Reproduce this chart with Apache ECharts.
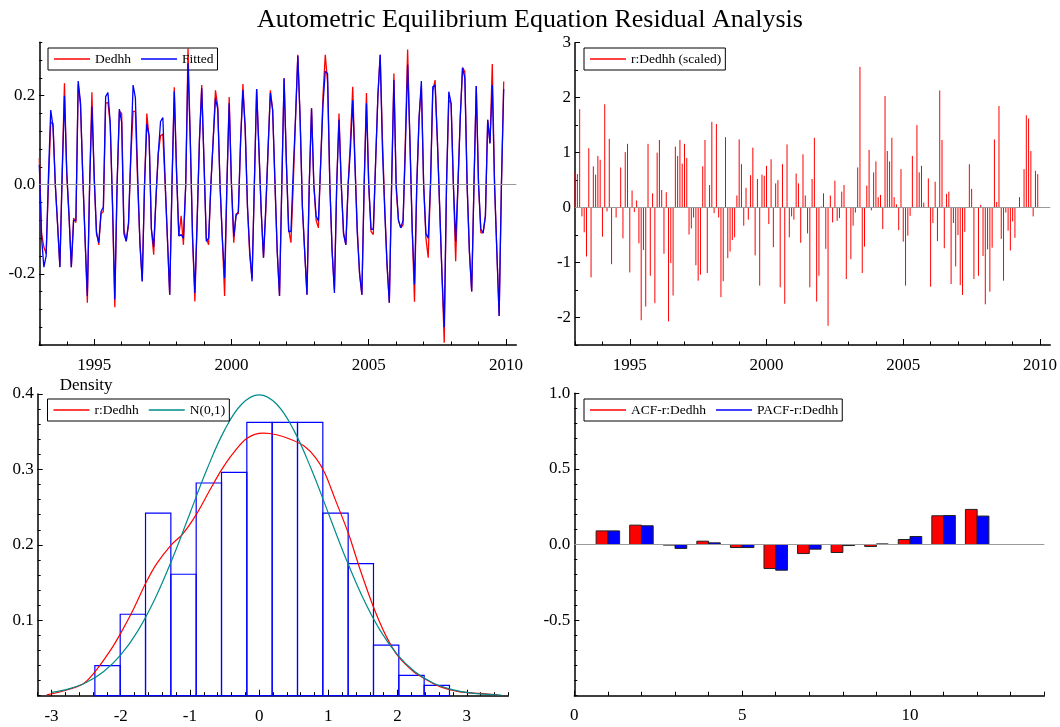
<!DOCTYPE html>
<html><head><meta charset="utf-8">
<script src="https://cdn.jsdelivr.net/npm/echarts@6/dist/echarts.min.js"></script>
<style>html,body{margin:0;padding:0;background:#fff}#c{width:1060px;height:727px}</style>
</head><body><div id="c"></div>
<script>
// ---------------- DATA ----------------
const startYear = 1993;
const periodsPerYear = 12;
const dedhh = [0.06,-0.11,-0.14,-0.155,0.0,0.14,0.138,0.0,-0.09,-0.185,0.03,0.228,0.02,-0.07,-0.185,-0.075,-0.085,0.225,0.18,0.02,
-0.12,-0.265,0.0,0.208,0.01,-0.105,-0.135,-0.065,-0.06,0.183,0.185,0.135,-0.05,-0.275,0.0,0.165,0.16,-0.1,-0.127,-0.09,
0.06,0.165,0.165,0.0,-0.13,-0.217,0.0,0.16,0.105,-0.1,-0.157,-0.03,0.07,0.11,0.114,0.0,-0.12,-0.247,0.0,0.219,
0.03,-0.115,-0.07,-0.135,0.0,0.306,0.1,-0.12,-0.262,-0.08,0.1,0.224,0.05,-0.12,-0.135,0.0,0.1,0.212,0.176,0.0,
-0.12,-0.25,0.0,0.197,0.0,-0.13,-0.065,-0.065,0.1,0.226,0.12,-0.05,-0.16,-0.21,0.0,0.215,0.08,-0.06,-0.164,-0.06,
0.08,0.212,0.168,0.0,-0.15,-0.25,0.0,0.239,0.05,-0.1,-0.13,0.0,0.15,0.292,0.15,-0.05,-0.15,-0.247,0.0,0.172,
0.0,-0.08,-0.097,0.05,0.2,0.292,0.23,0.0,-0.15,-0.235,0.0,0.16,0.0,-0.11,-0.135,0.0,0.1,0.22,0.05,-0.1,
-0.2,-0.247,0.0,0.206,0.0,-0.105,-0.112,0.05,0.2,0.292,0.1,-0.05,-0.18,-0.265,0.0,0.25,-0.01,-0.08,-0.097,-0.09,
0.1,0.304,0.1,-0.1,-0.263,0.0,0.15,0.22,0.0,-0.12,-0.164,0.0,0.21,0.235,0.1,-0.05,-0.2,-0.355,0.0,0.19,
0.183,0.0,-0.172,0.0,0.15,0.263,0.254,0.0,-0.15,-0.24,0.0,0.222,0.0,-0.108,-0.108,-0.07,0.146,0.093,0.271,0.0,
-0.15,-0.295,0.0,0.232];
const fitted = [0.045,-0.12,-0.185,-0.16,0.02,0.168,0.13,0.0,-0.09,-0.185,0.02,0.2,0.03,-0.07,-0.185,-0.08,-0.08,0.233,0.185,0.02,
-0.12,-0.25,0.0,0.176,0.02,-0.11,-0.13,-0.06,-0.05,0.198,0.207,0.14,-0.04,-0.258,0.0,0.17,0.14,-0.11,-0.127,-0.085,
0.07,0.224,0.195,0.02,-0.135,-0.217,0.0,0.137,0.11,-0.1,-0.14,-0.03,0.07,0.142,0.151,0.01,-0.12,-0.247,0.0,0.21,
0.026,-0.115,-0.112,-0.12,0.0,0.273,0.1,-0.12,-0.243,-0.08,0.1,0.217,0.05,-0.127,-0.12,0.0,0.1,0.194,0.17,0.0,
-0.12,-0.21,0.0,0.183,0.0,-0.116,-0.07,-0.06,0.1,0.213,0.13,-0.05,-0.15,-0.217,0.0,0.215,0.08,-0.06,-0.164,-0.05,
0.08,0.206,0.168,0.01,-0.15,-0.25,0.0,0.239,0.05,-0.105,-0.105,0.03,0.15,0.29,0.15,-0.05,-0.15,-0.247,0.0,0.172,
0.0,-0.07,-0.082,0.05,0.18,0.255,0.25,0.0,-0.15,-0.243,0.0,0.146,0.0,-0.11,-0.135,0.0,0.08,0.19,0.04,-0.11,
-0.2,-0.247,0.0,0.183,0.0,-0.1,-0.1,0.05,0.2,0.292,0.08,-0.06,-0.18,-0.265,0.0,0.235,0.0,-0.08,-0.097,-0.08,
0.08,0.27,0.1,-0.1,-0.224,0.0,0.15,0.233,0.0,-0.11,-0.12,0.0,0.22,0.224,0.1,-0.05,-0.2,-0.32,0.0,0.209,
0.183,0.0,-0.127,0.0,0.15,0.263,0.24,0.0,-0.15,-0.24,0.0,0.222,0.0,-0.1,-0.108,-0.07,0.146,0.093,0.224,0.0,
-0.15,-0.295,0.0,0.215];
const residScaled = [0.64,0.61,1.79,-0.16,-0.45,-0.89,1.08,-1.27,0.75,0.6,0.94,0.87,-0.53,1.88,-0.07,1.25,-1.03,0.0,-0.18,0.0,
0.73,-0.56,1.01,1.16,-1.18,0.31,-0.08,0.13,-0.65,-2.05,-0.77,-1.8,1.16,-1.24,0.26,-1.74,1.0,1.23,0.32,-0.84,
0.28,-2.07,-1.01,-1.6,1.11,0.94,1.23,0.8,1.16,0.9,-0.49,-0.38,-0.18,-1.05,-1.33,-1.22,0.75,1.23,-1.19,0.41,
1.56,-0.1,1.52,-0.18,-1.63,-1.34,1.28,-0.92,-0.8,-0.59,-0.54,0.22,1.24,0.79,-0.33,0.36,-0.22,0.59,1.09,-0.87,
0.52,-1.42,0.6,0.58,0.76,-0.3,0.88,-0.72,0.44,0.5,-1.45,0.79,-1.75,1.15,-0.54,-0.16,-0.22,0.62,0.44,-0.64,
0.97,0.22,-0.47,-1.45,0.52,1.27,-1.71,-1.24,0.02,0.26,-0.75,-2.15,0.22,-0.27,0.49,-0.24,-0.19,0.29,0.41,-1.3,
0.0,-0.94,-0.33,-0.09,0.73,2.56,-1.19,-0.71,0.4,1.05,-0.05,0.64,0.84,0.19,0.23,-0.39,2.03,1.03,0.84,1.27,
0.19,0.06,-0.41,0.7,-0.62,-1.42,-0.51,-0.15,0.94,0.0,1.5,0.64,0.76,0.09,0.0,0.53,-1.44,-0.28,0.47,-0.61,
2.13,1.23,-0.74,0.25,0.29,-1.39,-0.28,-1.07,-0.5,-1.41,-1.59,-0.44,0.0,0.79,0.34,-1.3,0.0,-1.24,0.05,-0.88,
-1.76,-0.76,-1.53,-0.73,1.24,0.1,1.85,-0.57,-1.33,-0.09,-0.42,-0.78,-0.25,-0.55,0.0,0.19,0.0,0.7,1.68,1.62,
1.03,-0.16,0.67,0.61];
// histogram of scaled residuals
const histEdges = [-2.374,-2.008,-1.642,-1.276,-0.910,-0.544,-0.178,0.188,0.554,0.920,1.286,1.652,2.018,2.384,2.750];
const histDensity = [0.040,0.108,0.242,0.161,0.282,0.296,0.3625,0.3625,0.3625,0.242,0.175,0.067,0.027,0.0137];
// estimated density r:Dedhh
const kdeX = [-3.07,-2.78,-2.54,-2.37,-2.15,-2.0,-1.82,-1.64,-1.48,-1.27,-1.1,-0.91,-0.71,-0.54,-0.38,-0.18,0.06,0.25,0.45,0.65,0.82,0.95,1.1,1.29,1.46,1.65,1.84,2.01,2.23,2.38,2.61,2.9,3.19,3.45];
const kdeY = [0.001,0.0075,0.016,0.032,0.06,0.083,0.114,0.149,0.175,0.2,0.215,0.24,0.273,0.3,0.321,0.341,0.348,0.346,0.34,0.331,0.315,0.295,0.26,0.215,0.167,0.118,0.078,0.052,0.032,0.023,0.012,0.005,0.003,0.001];
// N(0,1) reference curve
const normX = [-3,-2.75,-2.5,-2.25,-2,-1.75,-1.5,-1.25,-1,-0.75,-0.5,-0.25,0,0.25,0.5,0.75,1,1.25,1.5,1.75,2,2.25,2.5,2.75,3,3.25,3.5];
const normY = [0.0044,0.0091,0.0175,0.0317,0.054,0.0863,0.1295,0.1826,0.242,0.3011,0.3521,0.3867,0.3989,0.3867,0.3521,0.3011,0.242,0.1826,0.1295,0.0863,0.054,0.0317,0.0175,0.0091,0.0044,0.002,0.0009];
// correlogram
const lags = [1,2,3,4,5,6,7,8,9,10,11,12];
const acf  = [0.09,0.128,-0.004,0.022,-0.02,-0.159,-0.06,-0.053,-0.013,0.033,0.19,0.232];
const pacf = [0.09,0.124,-0.026,0.011,-0.02,-0.17,-0.031,-0.007,0.004,0.053,0.192,0.188];
// tick labels
const yearLabels = [1995, 2000, 2005, 2010];
const tsYLabels = [-0.2, 0, 0.2];
const resYLabels = [-2, -1, 0, 1, 2, 3];
const densXLabels = [-3, -2, -1, 0, 1, 2, 3];
const densYLabels = [0.1, 0.2, 0.3, 0.4];
const corXLabels = [0, 5, 10];
const corYLabels = [-0.5, 0, 0.5, 1];

// ---------------- BUILD ----------------
const FONT = "'Liberation Serif','DejaVu Serif',serif";
function range(a, b, step) { const out = []; const n = Math.round((b - a) / step); for (let k = 0; k <= n; k++) out.push(+(a + k * step).toFixed(6)); return out; }
const tsData = dedhh.map((v, i) => [startYear + i / periodsPerYear, v]);
const fitData = fitted.map((v, i) => [startYear + i / periodsPerYear, v]);
const resData = residScaled.map((v, i) => [startYear + i / periodsPerYear, v]);
const histData = histDensity.map((h, i) => [histEdges[i], histEdges[i + 1], h]);
const kdeData = kdeX.map((x, i) => [x, kdeY[i]]);
const normData = normX.map((x, i) => [x, normY[i]]);
const acfData = lags.map((k, i) => [k, acf[i]]);
const pacfData = lags.map((k, i) => [k, pacf[i]]);

const grids = [
  {left: 39.3, top: 42.3, width: 477, height: 302.7},
  {left: 575.1, top: 42.7, width: 477.3, height: 302.3},
  {left: 37.7, top: 394, width: 470.6, height: 301.7},
  {left: 574.3, top: 393.3, width: 470, height: 302.4}
];
const yearTicks = range(1993, 2010, 1);
const xAxes = [], yAxes = [];
function addAxis(list, dim, gi, min, max, majorTicks, minorTicks, labels, fmt, majLen, minLen, margin, extra) {
  const pos = dim === 'x' ? 'bottom' : 'left';
  list.push(Object.assign({
    type: 'value', gridIndex: gi, position: pos, min: min, max: max,
    axisLine: {show: true, onZero: false, lineStyle: {color: '#000', width: 1.5}},
    axisTick: {show: true, inside: true, length: majLen, customValues: majorTicks, lineStyle: {color: '#000', width: 1}},
    axisLabel: {show: true, customValues: labels, formatter: fmt, fontFamily: FONT, fontSize: 17, color: '#000', margin: margin},
    splitLine: {show: false}
  }, extra || {}));
  list.push({
    type: 'value', gridIndex: gi, position: pos, min: min, max: max,
    axisLine: {show: false, onZero: false},
    axisTick: {show: true, inside: true, length: minLen, customValues: minorTicks, lineStyle: {color: '#000', width: 1}},
    axisLabel: {show: false}, splitLine: {show: false}
  });
}
const f1 = v => (Math.abs(v) < 1e-9 ? 0 : v).toFixed(1);
const fi = v => String(v);
// grid 0
addAxis(xAxes, 'x', 0, 1993, 2010.375, yearLabels, yearTicks, yearLabels, fi, 6, 3.5, 12);
addAxis(yAxes, 'y', 0, -0.36, 0.32, tsYLabels, range(-0.36, 0.32, 0.04), tsYLabels, f1, 5, 3, 4);
// grid 1
addAxis(xAxes, 'x', 1, 1993, 2010.375, yearLabels, yearTicks, yearLabels, fi, 6, 3.5, 12);
addAxis(yAxes, 'y', 1, -2.5, 3, resYLabels, range(-2.5, 3, 0.5), resYLabels, fi, 5, 3, 4);
// grid 2
addAxis(xAxes, 'x', 2, -3.2, 3.6, densXLabels, range(-3.2, 3.6, 0.2), densXLabels, fi, 6, 3.5, 12);
addAxis(yAxes, 'y', 2, 0, 0.4, densYLabels, range(0, 0.4, 0.02), densYLabels, f1, 5, 3, 4,
  {name: 'Density', nameLocation: 'end', nameGap: 0,
   nameTextStyle: {fontFamily: FONT, fontSize: 17, color: '#000', align: 'left', verticalAlign: 'bottom', padding: [0, 0, 0, 22]}});
// grid 3
addAxis(xAxes, 'x', 3, 0, 14, corXLabels, range(0, 14, 1), corXLabels, fi, 5, 4, 11);
addAxis(yAxes, 'y', 3, -1, 1, corYLabels, range(-1, 1, 0.1), corYLabels, f1, 5, 3, 4);

const zeroLine = {silent: true, symbol: 'none', animation: false, label: {show: false},
  lineStyle: {color: '#9a9a9a', width: 1, type: 'solid'}, data: [{yAxis: 0}]};
function zeroSeries(gi) {
  return {type: 'line', name: 'zero' + gi, xAxisIndex: 2 * gi, yAxisIndex: 2 * gi, data: [], z: 1, markLine: zeroLine};
}
const BARW = 0.35;
function barRender(side, color) {
  return function (params, api) {
    const k = api.value(0), v = api.value(1);
    const x0 = side < 0 ? k - BARW : k, x1 = side < 0 ? k : k + BARW;
    const pA = api.coord([x0, v]), pB = api.coord([x1, 0]);
    return {type: 'rect', shape: {x: pA[0], y: Math.min(pA[1], pB[1]), width: pB[0] - pA[0], height: Math.abs(pB[1] - pA[1])},
      style: {fill: color, stroke: '#222', lineWidth: 1}};
  };
}
function legend(names, left, top) {
  return {data: names, left: left, top: top, orient: 'horizontal', padding: [4, 4, 4, 6], itemGap: 10,
    itemWidth: 36, itemHeight: 1.3, icon: 'rect', borderColor: '#000', borderWidth: 1, backgroundColor: 'transparent',
    selectedMode: false, textStyle: {fontFamily: FONT, fontSize: 13.5, color: '#000'}};
}

const option = {
  animation: false,
  backgroundColor: '#fff',
  title: {text: 'Autometric Equilibrium Equation Residual Analysis', left: 'center', top: 2,
    textStyle: {fontFamily: FONT, fontSize: 26, fontWeight: 'normal', color: '#000'}},
  grid: grids,
  xAxis: xAxes,
  yAxis: yAxes,
  legend: [
    legend(['Dedhh', 'Fitted'], 48, 48),
    legend(['r:Dedhh (scaled)'], 584, 48),
    legend(['r:Dedhh', 'N(0,1)'], 47.5, 399),
    legend(['ACF-r:Dedhh', 'PACF-r:Dedhh'], 584, 399)
  ],
  series: [
    zeroSeries(0),
    {type: 'line', name: 'Dedhh', xAxisIndex: 0, yAxisIndex: 0, data: tsData, symbol: 'none', z: 3,
      lineStyle: {color: '#ff0000', width: 1.3}, itemStyle: {color: '#ff0000'}},
    {type: 'line', name: 'Fitted', xAxisIndex: 0, yAxisIndex: 0, data: fitData, symbol: 'none', z: 4,
      lineStyle: {color: '#0000ff', width: 1.3}, itemStyle: {color: '#0000ff'}},
    zeroSeries(1),
    {type: 'custom', name: 'r:Dedhh (scaled)', xAxisIndex: 2, yAxisIndex: 2, data: resData, encode: {x: 0, y: 1}, z: 3,
      itemStyle: {color: '#ff0000'},
      renderItem: function (params, api) {
        const t = api.value(0), r = api.value(1);
        const p0 = api.coord([t, 0]), p1 = api.coord([t, r]);
        return {type: 'line', shape: {x1: p0[0], y1: p0[1], x2: p1[0], y2: p1[1]}, style: {stroke: '#ff0000', lineWidth: 1}};
      }},
    {type: 'custom', name: 'hist', xAxisIndex: 4, yAxisIndex: 4, data: histData, encode: {x: [0, 1], y: 2}, z: 2,
      renderItem: function (params, api) {
        const pA = api.coord([api.value(0), api.value(2)]), pB = api.coord([api.value(1), 0]);
        return {type: 'rect', shape: {x: pA[0], y: pA[1], width: pB[0] - pA[0], height: pB[1] - pA[1]},
          style: {fill: 'none', stroke: '#0000ff', lineWidth: 1.2}};
      }},
    {type: 'line', name: 'r:Dedhh', xAxisIndex: 4, yAxisIndex: 4, data: kdeData, symbol: 'none', smooth: 0.3, z: 3,
      lineStyle: {color: '#ff0000', width: 1.2}, itemStyle: {color: '#ff0000'}},
    {type: 'line', name: 'N(0,1)', xAxisIndex: 4, yAxisIndex: 4, data: normData, symbol: 'none', smooth: 0.4, z: 3,
      lineStyle: {color: '#008a8a', width: 1.2}, itemStyle: {color: '#008a8a'}},
    zeroSeries(3),
    {type: 'custom', name: 'ACF-r:Dedhh', xAxisIndex: 6, yAxisIndex: 6, data: acfData, encode: {x: 0, y: 1}, z: 3,
      itemStyle: {color: '#ff0000'}, renderItem: barRender(-1, '#ff0000')},
    {type: 'custom', name: 'PACF-r:Dedhh', xAxisIndex: 6, yAxisIndex: 6, data: pacfData, encode: {x: 0, y: 1}, z: 3,
      itemStyle: {color: '#0000ff'}, renderItem: barRender(1, '#0000ff')}
  ]
};
const chart = echarts.init(document.getElementById('c'), null, {renderer: 'canvas'});
chart.setOption(option);
</script></body></html>
